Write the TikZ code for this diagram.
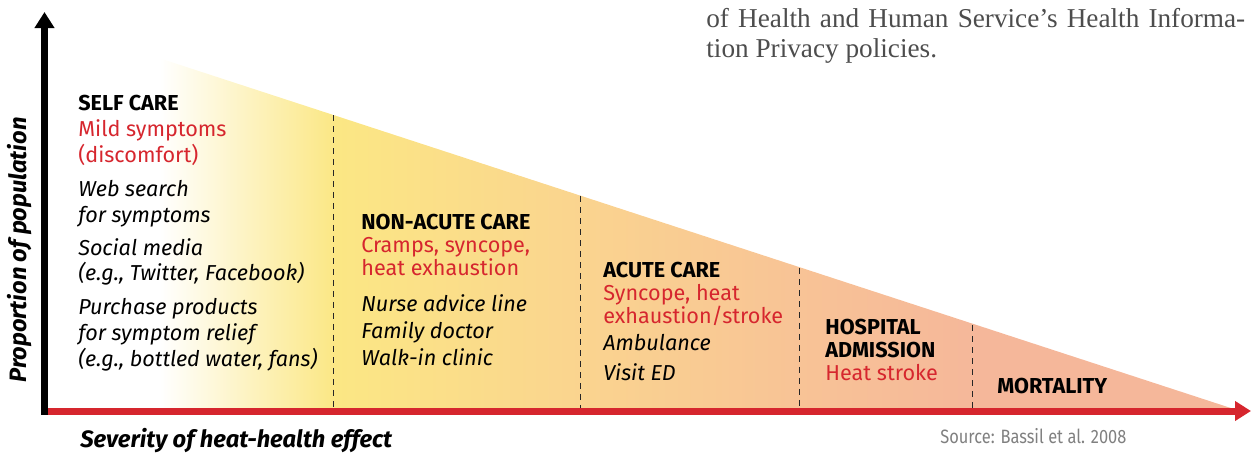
\documentclass[tikz,border=0pt]{standalone}
\usepackage{fontspec}
\setmainfont{Fira Sans}
\newfontfamily\serifbody{Liberation Serif}
\newfontfamily\sourcefont[FakeStretch=0.85]{Fira Sans}
\usetikzlibrary{arrows.meta}

\definecolor{alertred}{RGB}{214,38,46}
\definecolor{heatyellow}{RGB}{251,231,132}
\definecolor{heatamber}{RGB}{250,212,143}
\definecolor{heatorange}{RGB}{248,195,150}
\definecolor{heatsalmon}{RGB}{245,183,154}
\definecolor{bodygray}{RGB}{77,77,77}

\begin{document}
\begin{tikzpicture}[
    x=0.02cm, y=-0.02cm,
    careblock/.style={anchor=base west, align=left, inner sep=0pt,
      font=\fontsize{12.3}{13.09}\selectfont},
    divider/.style={black!85, line width=0.5pt, dash pattern=on 0.12cm off 0.1cm},
    axislabel/.style={inner sep=0pt, font=\fontsize{13.5}{15}\selectfont\bfseries\itshape}
  ]
  \useasboundingbox (0,0) rectangle (1253,454);

  \coordinate (apex) at (44,20.5);
  \coordinate (tip) at (1240,411);
  \coordinate (origin) at (44.5,411);

  % shaded triangle
  \begin{scope}
    \clip (apex) -- (tip) -- (origin) -- cycle;
    \foreach \a/\b/\ca/\cb in {160/336/white/heatyellow,
                               335/581/heatyellow/heatamber,
                               580/800/heatamber/heatorange,
                               799/980/heatorange/heatsalmon,
                               979/1245/heatsalmon/heatsalmon}
      {\shade[left color=\ca, right color=\cb] (\a,0) rectangle (\b,420);};
  \end{scope}

  \foreach \x/\y in {333/115,580/196,799/268,972/325}
    {\draw[divider] (\x,\y) -- (\x,408);};

  % axes
  \draw[alertred, line width=0.14cm, -{Triangle[length=0.32cm,width=0.38cm]}] (origin) -- (1251,411) coordinate (xend);
  \draw[black, line width=0.14cm, -{Triangle[length=0.32cm,width=0.38cm]}] (44.5,414.5) -- (44.5,12) coordinate (ytop);

  \node[axislabel, rotate=90, anchor=base] (ylabel) at (27,250) {Proportion of population};
  \node[axislabel, anchor=base west] (xlabel) at (80,447) {Severity of heat-health effect};

  % care levels (placed at the baseline of the last line)
  \node[careblock] (selfcare) at (78,366) {\textbf{SELF CARE}\\[0.06cm]
    \textcolor{alertred}{Mild symptoms}\\[0.06cm]
    \textcolor{alertred}{(discomfort)}\\[0.22cm]
    \textit{Web search}\\[0.05cm]
    \textit{for symptoms}\\[0.2cm]
    \textit{Social media}\\[0.05cm]
    \textit{(e.g., Twitter, Facebook)}\\[0.22cm]
    \textit{Purchase products}\\[0.06cm]
    \textit{for symptom relief}\\[0.05cm]
    \textit{(e.g., bottled water, fans)}};
  \node[careblock] (nonacute) at (361,365) {\textbf{NON-ACUTE CARE}\\
    \textcolor{alertred}{Cramps, syncope,}\\
    \textcolor{alertred}{heat exhaustion}\\[0.26cm]
    \textit{Nurse advice line}\\[0.08cm]
    \textit{Family doctor}\\[0.08cm]
    \textit{Walk-in clinic}};
  \node[careblock] (acute) at (603,380) {\textbf{ACUTE CARE}\\
    \textcolor{alertred}{Syncope, heat}\\
    \textcolor{alertred}{exhaustion/stroke}\\[0.08cm]
    \textit{Ambulance}\\[0.14cm]
    \textit{Visit ED}};
  \node[careblock] (hospital) at (825,380) {\textbf{HOSPITAL}\\
    \textbf{ADMISSION}\\
    \textcolor{alertred}{Heat stroke}};
  \node[careblock] (mortality) at (997,393) {\textbf{MORTALITY}};

  \node[anchor=base west, inner sep=0pt, text=black!50, font=\sourcefont\fontsize{11}{13}\selectfont] (source) at (940,443) {Source: Bassil et al. 2008};

  % running text of the page
  \node[anchor=base west, inner sep=0pt, text=bodygray, font=\serifbody\fontsize{15.5}{17}\selectfont] (bodyone) at (706,27)
    {\makebox[10.78cm][s]{of Health and Human Service’s Health Informa-}};
  \node[anchor=base west, inner sep=0pt, text=bodygray, font=\serifbody\fontsize{15.5}{17}\selectfont] (bodytwo) at (706,57)
    {tion Privacy policies.};
\end{tikzpicture}
\end{document}
